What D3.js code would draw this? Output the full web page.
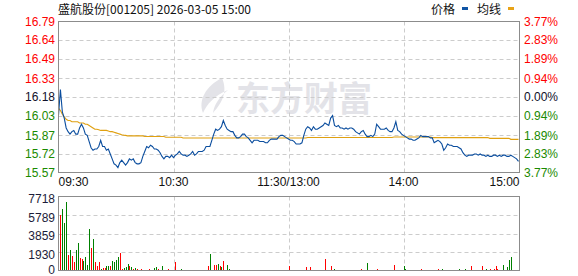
<!DOCTYPE html>
<html>

<head>
  <meta charset="utf-8">
  <title> 盛航股份 分时图 </title>
  <script src="https://d3js.org/d3.v7.min.js"></script>
  <style>
    body { margin: 0; background: #fff; }
    text { font-family: Arial, "Liberation Sans", sans-serif; }
    .cjk { font-family: "Noto Sans CJK SC", sans-serif; }
  </style>
</head>

<body>
  <svg class="chart"></svg>
</body>

<script>

// ---- data ----
const title = "盛航股份[001205] 2026-03-05 15:00";
const timeLabels = ["09:30", "10:30", "11:30/13:00", "14:00", "15:00"];
const timeTicks = [0, 60, 120, 180, 240];

const priceTicks = ["16.79", "16.64", "16.49", "16.33", "16.18", "16.03", "15.87", "15.72", "15.57"];
const pctTicks = ["3.77%", "2.83%", "1.89%", "0.94%", "0.00%", "0.94%", "1.89%", "2.83%", "3.77%"];
const volTicks = [7718, 5789, 3859, 1930, 0];
const prevClose = 16.18;

// price per minute, 09:30 .. 15:00
const price = [
  16.03, 16.24, 16.06, 16.01, 15.93, 15.90, 15.88, 15.90, 15.91, 15.88,
  15.88, 15.93, 15.96, 15.93, 15.88, 15.87, 15.82, 15.77, 15.75, 15.76,
  15.76, 15.78, 15.83, 15.78, 15.78, 15.75, 15.76, 15.72, 15.68, 15.64,
  15.63, 15.61, 15.65, 15.67, 15.65, 15.63, 15.65, 15.68, 15.67, 15.68,
  15.65, 15.64, 15.64, 15.65, 15.70, 15.74, 15.78, 15.77, 15.79, 15.78,
  15.76, 15.76, 15.75, 15.73, 15.70, 15.68, 15.70, 15.70, 15.69, 15.71,
  15.69, 15.71, 15.72, 15.74, 15.72, 15.71, 15.71, 15.70, 15.71, 15.72,
  15.74, 15.71, 15.72, 15.74, 15.74, 15.74, 15.75, 15.78, 15.78, 15.78,
  15.83, 15.88, 15.92, 15.91, 15.92, 15.94, 15.99, 15.95, 15.92, 15.91,
  15.90, 15.90, 15.87, 15.85, 15.85, 15.86, 15.88, 15.88, 15.86, 15.85,
  15.83, 15.81, 15.83, 15.83, 15.83, 15.82, 15.82, 15.82, 15.81, 15.81,
  15.83, 15.84, 15.84, 15.84, 15.84, 15.86, 15.87, 15.87, 15.86, 15.85,
  15.84, 15.83, 15.83, 15.82, 15.80, 15.80, 15.80, 15.81, 15.87, 15.92,
  15.94, 15.93, 15.91, 15.94, 15.92, 15.92, 15.93, 15.94, 15.95, 15.97,
  15.96, 15.95, 16.01, 16.03, 15.95, 15.94, 15.95, 15.93, 15.93, 15.92,
  15.93, 15.92, 15.93, 15.93, 15.92, 15.90, 15.89, 15.88, 15.90, 15.91,
  15.88, 15.86, 15.86, 15.87, 15.86, 15.88, 15.96, 15.94, 15.92, 15.92,
  15.92, 15.93, 15.91, 15.90, 15.90, 15.93, 15.98, 15.91, 15.90, 15.88,
  15.87, 15.86, 15.85, 15.84, 15.84, 15.83, 15.83, 15.84, 15.85, 15.87,
  15.86, 15.86, 15.86, 15.86, 15.85, 15.85, 15.81, 15.82, 15.83, 15.82,
  15.80, 15.75, 15.77, 15.80, 15.79, 15.79, 15.78, 15.78, 15.78, 15.77,
  15.76, 15.73, 15.71, 15.70, 15.71, 15.71, 15.71, 15.72, 15.72, 15.71,
  15.72, 15.71, 15.71, 15.70, 15.71, 15.70, 15.70, 15.71, 15.71, 15.70,
  15.71, 15.70, 15.71, 15.71, 15.70, 15.70, 15.71, 15.70, 15.69, 15.68,
  15.66
];

// average price line per minute
const avgPrice = [
  16.09, 16.07, 16.04, 16.02, 16.00, 15.99, 15.99, 15.98, 15.98, 15.98,
  15.98, 15.97, 15.97, 15.97, 15.96, 15.96, 15.95, 15.94, 15.93, 15.92,
  15.92, 15.915, 15.91, 15.91, 15.91, 15.91, 15.905, 15.90, 15.90, 15.895,
  15.89, 15.885, 15.88, 15.875, 15.872, 15.870, 15.866, 15.866, 15.866, 15.866,
  15.866, 15.866, 15.866, 15.866, 15.866, 15.861, 15.861, 15.861, 15.861, 15.861,
  15.861, 15.861, 15.861, 15.861, 15.861, 15.861, 15.855, 15.855, 15.855, 15.855,
  15.855, 15.855, 15.855, 15.855, 15.855, 15.849, 15.849, 15.849, 15.849, 15.849,
  15.849, 15.849, 15.849, 15.849, 15.849, 15.849, 15.849, 15.849, 15.849, 15.849,
  15.849, 15.849, 15.849, 15.849, 15.849, 15.849, 15.849, 15.849, 15.849, 15.849,
  15.849, 15.849, 15.849, 15.849, 15.849, 15.849, 15.849, 15.849, 15.849, 15.849,
  15.849, 15.849, 15.849, 15.849, 15.849, 15.849, 15.849, 15.849, 15.849, 15.849,
  15.849, 15.849, 15.849, 15.849, 15.849, 15.849, 15.849, 15.849, 15.849, 15.849,
  15.849, 15.849, 15.849, 15.849, 15.849, 15.849, 15.849, 15.849, 15.849, 15.849,
  15.853, 15.853, 15.853, 15.853, 15.853, 15.853, 15.853, 15.853, 15.853, 15.853,
  15.853, 15.853, 15.853, 15.853, 15.853, 15.853, 15.853, 15.853, 15.853, 15.853,
  15.853, 15.853, 15.853, 15.853, 15.853, 15.853, 15.853, 15.853, 15.853, 15.853,
  15.853, 15.853, 15.853, 15.853, 15.853, 15.853, 15.853, 15.853, 15.853, 15.853,
  15.853, 15.853, 15.853, 15.853, 15.853, 15.857, 15.857, 15.857, 15.857, 15.857,
  15.857, 15.857, 15.857, 15.857, 15.857, 15.857, 15.857, 15.857, 15.857, 15.857,
  15.857, 15.857, 15.857, 15.857, 15.857, 15.852, 15.852, 15.852, 15.852, 15.852,
  15.852, 15.852, 15.852, 15.852, 15.852, 15.852, 15.852, 15.852, 15.852, 15.852,
  15.852, 15.852, 15.852, 15.852, 15.852, 15.852, 15.852, 15.852, 15.852, 15.852,
  15.852, 15.852, 15.852, 15.852, 15.852, 15.846, 15.846, 15.846, 15.846, 15.846,
  15.846, 15.846, 15.846, 15.846, 15.846, 15.846, 15.838, 15.838, 15.838, 15.838,
  15.838
];

// volume per minute, 09:31 .. 15:00
const volume = [
  5797, 6426, 4924, 7124, 1606, 2095, 1467, 838, 2095, 2829,
  1257, 1187, 943, 1362, 559, 4295, 2340, 3248, 838, 489,
  838, 140, 210, 210, 419, 419, 419, 943, 838, 1048,
  1362, 1781, 140, 210, 314, 629, 419, 314, 140, 210,
  140, 100, 140, 100, 100, 100, 140, 100, 100, 280,
  314, 140, 100, 419, 100, 100, 140, 100, 100, 100,
  838, 100, 100, 140, 100, 100, 100, 100, 100, 100,
  100, 100, 100, 100, 100, 100, 100, 450, 1738, 100,
  560, 560, 730, 450, 350, 973, 100, 560, 200, 100,
  100, 100, 100, 100, 100, 100, 100, 100, 100, 100,
  100, 100, 100, 100, 100, 100, 100, 100, 100, 100,
  100, 100, 100, 100, 100, 100, 100, 100, 100, 450,
  100, 100, 100, 100, 100, 100, 100, 100, 350, 100,
  350, 100, 100, 100, 100, 100, 100, 100, 1182, 100,
  100, 450, 100, 200, 100, 100, 100, 100, 100, 100,
  100, 100, 100, 100, 100, 100, 100, 200, 100, 100,
  765, 100, 100, 100, 100, 200, 100, 100, 100, 100,
  100, 100, 100, 100, 556, 100, 100, 100, 100, 450,
  200, 100, 100, 100, 100, 100, 100, 100, 200, 100,
  100, 100, 100, 100, 100, 100, 100, 200, 100, 200,
  100, 100, 100, 100, 100, 100, 100, 100, 150, 100,
  100, 150, 100, 100, 450, 100, 100, 100, 100, 100,
  450, 100, 200, 100, 150, 100, 150, 450, 200, 100,
  100, 556, 100, 350, 1078, 1391, 100, 100, 100, 1495
];

// bar colour per minute, ten per group: r = up, g = down
const volSide = [
  "rgggrgrrgg", "rrggggrgrr", "rgrrggrggg", "grrgggrgrg",
  "rrrrgrrrrg", "grrgrrrggr", "rggggggggg", "gggggggrgr",
  "rrgrgrgggg", "ggggrggggg", "rrgrrrgrrr", "rrgrrrrgrr",
  "grrgrgrrrg", "rgrgrrgrrg", "rrggrgrggr", "grgrgrgrrg",
  "grgrrrrrgr", "rrgrrrgrgg", "grgrgrrgrg", "grgrrgrrrg",
  "rgrggrgrgr", "ggrgrrgrgr", "rggrrgrrrg", "rgrgggrgrg"
].join("");

// ---- layout ----
const W = 578, H = 276;
const left = 58.5, right = 519.5;
const pTop = 21.5, pBottom = 172.5;
const vTop = 196.5, vBottom = 270.5;

const svg = d3.select(".chart")
  .attr("width", W)
  .attr("height", H);

// scales
const x = d3.scaleLinear().domain([0, 240]).range([left, right - 1]);
const y = d3.scaleLinear().domain([+priceTicks[8], +priceTicks[0]]).range([pBottom, pTop]);
const vy = d3.scaleLinear().domain([0, volTicks[0]]).range([vBottom, vTop]);

// watermark behind everything
const wm = svg.append("g").attr("fill", "#e3e3e8");
wm.append("path")
  .attr("d", "M222,78 C206,86 198,100 203,113 C207,104 214,96 228,90 C219,97 214,105 213,113 C222,103 228,92 222,78 Z");
wm.append("text")
  .attr("class", "cjk")
  .attr("x", 236)
  .attr("y", 111)
  .style("font-size", "34px")
  .style("font-weight", "bold")
  .text("东方财富");

// grid lines
const grid = svg.append("g")
  .attr("stroke", "#cccccc")
  .attr("stroke-dasharray", "4,3");

grid.selectAll(".hp")
  .data(priceTicks.slice(1, -1))
  .join("line")
    .attr("x1", left).attr("x2", right)
    .attr("y1", d => Math.round(y(+d)) + 0.5)
    .attr("y2", d => Math.round(y(+d)) + 0.5);

grid.selectAll(".hv")
  .data(volTicks.slice(1, -1))
  .join("line")
    .attr("x1", left).attr("x2", right)
    .attr("y1", d => Math.round(vy(d)) + 0.5)
    .attr("y2", d => Math.round(vy(d)) + 0.5);

[[pTop, pBottom], [vTop, vBottom]].forEach(([t, b]) => {
  grid.selectAll(null)
    .data(timeTicks.slice(1, -1))
    .join("line")
      .attr("x1", d => Math.round(x(d)) + 0.5)
      .attr("x2", d => Math.round(x(d)) + 0.5)
      .attr("y1", t).attr("y2", b);
});

// volume bars, 1px wide on whole pixels
svg.append("g")
  .attr("shape-rendering", "crispEdges")
  .selectAll("rect")
  .data(volume)
  .join("rect")
    .attr("x", (d, i) => Math.round(x(i + 1)))
    .attr("y", d => Math.round(vy(d)))
    .attr("width", 1)
    .attr("height", d => Math.max(1, Math.round(vy(0)) - Math.round(vy(d))))
    .attr("fill", (d, i) => volSide[i] === "r" ? "#ff0000" : "#008000");

// average line and price line
svg.append("path")
  .datum(avgPrice)
  .attr("fill", "none")
  .attr("stroke", "#e0a010")
  .attr("stroke-width", 1.1)
  .attr("d", d3.line().x((d, i) => x(i)).y(d => y(d)));

svg.append("path")
  .datum(price)
  .attr("fill", "none")
  .attr("stroke", "#0a4d9e")
  .attr("stroke-width", 1.1)
  .attr("d", d3.line().x((d, i) => x(i)).y(d => y(d)));

// frames
svg.append("rect")
  .attr("x", left).attr("y", pTop)
  .attr("width", right - left).attr("height", pBottom - pTop)
  .attr("fill", "none").attr("stroke", "#8c8c8c");
svg.append("rect")
  .attr("x", left).attr("y", vTop)
  .attr("width", right - left).attr("height", vBottom - vTop)
  .attr("fill", "none").attr("stroke", "#8c8c8c");

// colour of a label above / at / below the previous close
const tickColor = i => i < 4 ? "#ff0000" : (i === 4 ? "#10102a" : "#1a8a00");

// left price labels
svg.append("g")
  .selectAll("text")
  .data(priceTicks)
  .join("text")
    .attr("x", 55)
    .attr("y", d => y(+d))
    .attr("dy", "0.35em")
    .attr("text-anchor", "end")
    .style("font-size", "12px")
    .attr("fill", (d, i) => tickColor(i))
    .text(d => d);

// right percent labels
svg.append("g")
  .selectAll("text")
  .data(pctTicks)
  .join("text")
    .attr("x", 524)
    .attr("y", (d, i) => y(+priceTicks[i]))
    .attr("dy", "0.35em")
    .style("font-size", "12px")
    .attr("fill", (d, i) => tickColor(i))
    .text(d => d);

// volume labels
svg.append("g")
  .selectAll("text")
  .data(volTicks)
  .join("text")
    .attr("x", 55)
    .attr("y", d => Math.min(vy(d) + 2.5, 269.5))
    .attr("dy", "0.35em")
    .attr("text-anchor", "end")
    .style("font-size", "12px")
    .attr("fill", "#1c1c3a")
    .text(d => d);

// time labels
svg.append("g")
  .selectAll("text")
  .data(timeLabels)
  .join("text")
    .attr("x", (d, i) => i === 0 ? left : (i === 4 ? right : x(timeTicks[i])))
    .attr("y", 182)
    .attr("dy", "0.35em")
    .attr("text-anchor", (d, i) => i === 0 ? "start" : (i === 4 ? "end" : "middle"))
    .style("font-size", "12px")
    .attr("fill", "#111")
    .text(d => d);

// title
svg.append("text")
  .attr("class", "cjk")
  .attr("x", 58)
  .attr("y", 14)
  .style("font-size", "12px")
  .attr("fill", "#111")
  .text(title);

// legend
svg.append("text").attr("class", "cjk")
  .attr("x", 431).attr("y", 14)
  .style("font-size", "12px").attr("fill", "#111")
  .text("价格");
svg.append("rect")
  .attr("x", 462).attr("y", 7).attr("width", 6).attr("height", 3)
  .attr("fill", "#1055a5");
svg.append("text").attr("class", "cjk")
  .attr("x", 477).attr("y", 14)
  .style("font-size", "12px").attr("fill", "#111")
  .text("均线");
svg.append("rect")
  .attr("x", 508).attr("y", 7).attr("width", 6).attr("height", 3)
  .attr("fill", "#e8a317");

</script>
</html>
